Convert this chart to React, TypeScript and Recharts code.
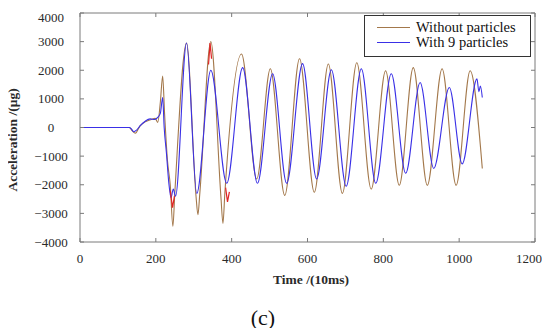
import React from "react";
import { LineChart, Line, XAxis, YAxis, Legend } from "recharts";

// time in units of 10 ms, acceleration in micro-g
const plainTime = [0, 130, 138, 146, 158, 172, 188, 198, 205, 212, 218, 223, 231, 238, 245, 250, 281, 306, 311, 316, 345, 372, 377, 382, 426, 466, 502, 540, 579, 618, 655, 692, 730, 768, 806, 842, 879, 916, 955, 992, 1029, 1061];
const plainAccel = [0, 0, -120, -200, 50, 200, 280, 320, 180, 900, 1800, 500, -1200, -2000, -3450, -2300, 2950, -2400, -3050, -2300, 3000, -2500, -3350, -2300, 2570, -1800, 2050, -2370, 2400, -2260, 2220, -2300, 2260, -2150, 1980, -2020, 2090, -2020, 2050, -2020, 1980, -1430];

const particleTime = [0, 130, 136, 142, 150, 160, 172, 185, 197, 205, 212, 218, 222, 228, 234, 240, 246, 252, 281, 308, 345, 387, 429, 468, 508, 545, 587, 624, 663, 702, 742, 780, 821, 859, 897, 933, 974, 1008, 1047, 1052, 1056, 1061];
const particleAccel = [0, 0, -60, -150, -80, 80, 220, 300, 280, 350, 500, 1050, 0, -900, -1900, -2450, -2150, -2400, 2950, -2300, 2000, -1950, 2090, -1950, 1880, -1950, 2230, -1800, 2020, -2050, 2050, -1950, 1880, -1600, 1570, -1430, 1400, -1270, 1700, 1250, 1450, 1050];

// short red overshoot traces near the early extremes
const spikeTime = [238, 244, 249, 290, 339, 343, 347, 370, 384, 389, 394];
const spikeAccel: (number | null)[] = [-2200, -2800, -2400, null, 2200, 2950, 2400, null, -2100, -2600, -2250];

const xTicks = [0, 200, 400, 600, 800, 1000, 1200];
const yTicks = [-4000, -3000, -2000, -1000, 0, 1000, 2000, 3000, 4000];
const legendOrder = ["Without particles", "With 9 particles"];

const toRows = (t: number[], v: (number | null)[]) => t.map((time, i) => ({ time, value: v[i] }));

const plainRows = toRows(plainTime, plainAccel);
const particleRows = toRows(particleTime, particleAccel);
const spikeRows = toRows(spikeTime, spikeAccel);

const AXIS = "#7a7a7a";
const TEXT = "#2a2a2a";
const FONT = "'Liberation Serif', 'Times New Roman', serif";

const minus = (v: number) => String(v).replace("-", "\u2212");

const YTick = (props: any) => {
  const { y, payload } = props;
  return (
    <text x={43} y={y} dy={4.5} textAnchor="middle" fontSize={13} fill={TEXT} fontFamily={FONT}>
      {minus(payload.value)}
    </text>
  );
};

const LegendBox = (props: any) => {
  const items = (props.payload || [])
    .filter((p: any) => legendOrder.includes(p.value))
    .sort((a: any, b: any) => legendOrder.indexOf(a.value) - legendOrder.indexOf(b.value));
  return (
    <div
      style={{
        width: 165,
        height: 40,
        border: "1px solid #333",
        background: "#fff",
        fontFamily: FONT,
        fontSize: 14.5,
        color: "#111",
        position: "relative",
      }}
    >
      {items.map((it: any, i: number) => (
        <div key={it.value} style={{ position: "absolute", left: 0, top: 4 + i * 15, height: 15, display: "flex", alignItems: "center", whiteSpace: "nowrap" }}>
          <span style={{ display: "inline-block", width: 33, height: 0, borderTop: `1.2px solid ${it.color}`, marginLeft: 12, marginRight: 6 }} />
          <span style={{ lineHeight: "15px" }}>{it.value}</span>
        </div>
      ))}
    </div>
  );
};

export default function App() {
  return (
    <div style={{ position: "relative", width: 534, height: 320, fontFamily: FONT }}>
      <LineChart width={534} height={320} margin={{ top: 4, right: 6, bottom: 56, left: 10 }}>
        <XAxis
          dataKey="time"
          type="number"
          domain={[0, 1200]}
          ticks={xTicks}
          height={30}
          tickSize={-4}
          tickMargin={16}
          axisLine={{ stroke: AXIS }}
          tickLine={{ stroke: AXIS }}
          tick={{ fill: TEXT, fontSize: 13, fontFamily: FONT }}
          allowDataOverflow
        />
        <XAxis
          xAxisId="top"
          orientation="top"
          dataKey="time"
          type="number"
          domain={[0, 1200]}
          ticks={xTicks}
          height={1}
          tickSize={-4}
          axisLine={{ stroke: AXIS }}
          tickLine={{ stroke: AXIS }}
          tickFormatter={() => ""}
          allowDataOverflow
        />
        <YAxis
          type="number"
          domain={[-4000, 4000]}
          ticks={yTicks}
          width={62}
          tickSize={-4}
          axisLine={{ stroke: AXIS }}
          tickLine={{ stroke: AXIS }}
          tick={<YTick />}
          allowDataOverflow
        />
        <YAxis
          yAxisId="right"
          orientation="right"
          type="number"
          domain={[-4000, 4000]}
          ticks={yTicks}
          width={1}
          tickSize={-4}
          axisLine={{ stroke: AXIS }}
          tickLine={{ stroke: AXIS }}
          tickFormatter={() => ""}
          allowDataOverflow
        />
        <Line
          data={plainRows}
          dataKey="value"
          name="Without particles"
          type="monotone"
          stroke="#a3784b"
          strokeWidth={1.1}
          dot={false}
          isAnimationActive={false}
        />
        <Line
          data={particleRows}
          dataKey="value"
          name="With 9 particles"
          type="monotone"
          stroke="#3a30e6"
          strokeWidth={1.1}
          dot={false}
          isAnimationActive={false}
        />
        <Line
          data={spikeRows}
          xAxisId="top"
          yAxisId="right"
          dataKey="value"
          name="spike"
          type="linear"
          stroke="#e02424"
          strokeWidth={1.2}
          dot={false}
          connectNulls={false}
          legendType="none"
          isAnimationActive={false}
        />
        <Legend
          layout="horizontal"
          align="center"
          verticalAlign="middle"
          content={<LegendBox />}
          wrapperStyle={{ position: "absolute", left: 356, top: 7, width: 167, height: 42 }}
        />
      </LineChart>
      <svg
        width={534}
        height={320}
        style={{ position: "absolute", left: 0, top: 0, overflow: "visible", pointerEvents: "none" }}
      >
        <text x={303} y={276} textAnchor="middle" fontSize={13.5} fontWeight="bold" fill={TEXT} fontFamily={FONT}>
          Time /(10ms)
        </text>
        <text
          x={9}
          y={132}
          transform="rotate(-90 9 132)"
          textAnchor="middle"
          fontSize={13.5}
          fontWeight="bold"
          fill={TEXT}
          fontFamily={FONT}
        >
          Acceleration /(μg)
        </text>
        <text x={255} y={317} textAnchor="middle" fontSize={22} fill="#111" fontFamily={FONT}>
          (c)
        </text>
      </svg>
    </div>
  );
}
